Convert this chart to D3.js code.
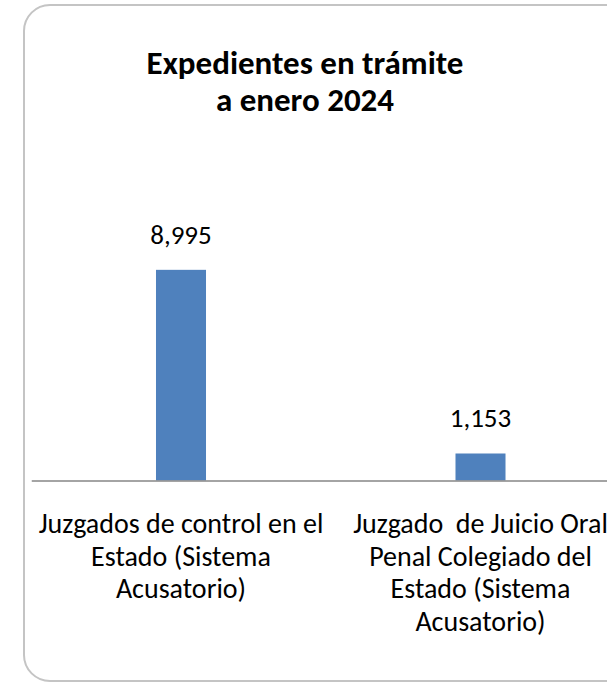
<!DOCTYPE html>
<html>
<head>
<meta charset="utf-8">
<script src="https://cdn.jsdelivr.net/npm/d3@7"></script>
<style>
  html, body { margin: 0; padding: 0; background: #ffffff; }
  svg { display: block; }
  text { font-family: Carlito, Lato, "Open Sans", sans-serif; fill: #000; white-space: pre; }
</style>
</head>
<body>
<svg id="chart" width="607" height="682"></svg>
<script>
// ---- data ----
const titleLines = ["Expedientes en trámite", "a enero 2024"];
const categories = [
  "Juzgados de control en el Estado (Sistema Acusatorio)",
  "Juzgado  de Juicio Oral Penal Colegiado del Estado (Sistema Acusatorio)"
];
const categoryLines = [
  ["Juzgados de control en el", "Estado (Sistema", "Acusatorio)"],
  ["Juzgado  de Juicio Oral", "Penal Colegiado del", "Estado (Sistema", "Acusatorio)"]
];
const values = [8995, 1153];
const yDomain = [0, 10000];

// ---- layout ----
const svg = d3.select("#chart");
const plot = { left: 31.25, right: 630.25, top: 246.3, bottom: 480.5 };

// chart area border (rounded, extends past right edge)
svg.append("rect")
  .attr("x", 24).attr("y", 5)
  .attr("width", 640).attr("height", 676)
  .attr("rx", 26).attr("ry", 26)
  .attr("fill", "#ffffff")
  .attr("stroke", "#c4c4c4")
  .attr("stroke-width", 2);

// title
svg.append("text")
  .attr("text-anchor", "middle")
  .style("font-weight", "bold")
  .style("font-size", "33px")
  .selectAll("tspan")
  .data(titleLines)
  .join("tspan")
  .attr("x", 305)
  .attr("y", (d, i) => 74 + i * 37)
  .text(d => d);

const x = d3.scaleBand().domain(categories).range([plot.left, plot.right]).padding(0);
const y = d3.scaleLinear().domain(yDomain).range([plot.bottom, plot.top]);
const barW = x.bandwidth() * 0.167;

// bars
svg.append("g").selectAll("rect")
  .data(values)
  .join("rect")
  .attr("x", (d, i) => x(categories[i]) + x.bandwidth() / 2 - barW / 2)
  .attr("y", d => y(d))
  .attr("width", barW)
  .attr("height", d => y(0) - y(d))
  .attr("fill", "#4f81bd");

// axis line
const xAxis = d3.axisBottom(x).tickSize(0).tickFormat("");
const axisG = svg.append("g").attr("transform", `translate(0,${y(0)})`).call(xAxis);
axisG.select(".domain").attr("stroke", "#868686").attr("stroke-width", 1.5);

// data labels
const fmt = d3.format(",");
svg.append("g").selectAll("text")
  .data(values)
  .join("text")
  .attr("text-anchor", "middle")
  .style("font-size", "27px")
  .attr("x", (d, i) => x(categories[i]) + x.bandwidth() / 2)
  .attr("y", d => y(d) - 26)
  .text(d => fmt(d));

// category labels
const catG = svg.append("g");
categoryLines.forEach((lines, i) => {
  catG.append("text")
    .attr("text-anchor", "middle")
    .style("font-size", "28px")
    .selectAll("tspan")
    .data(lines)
    .join("tspan")
    .attr("x", x(categories[i]) + x.bandwidth() / 2)
    .attr("y", (d, j) => 533 + j * 32.5)
    .text(d => d);
});
</script>
</body>
</html>
